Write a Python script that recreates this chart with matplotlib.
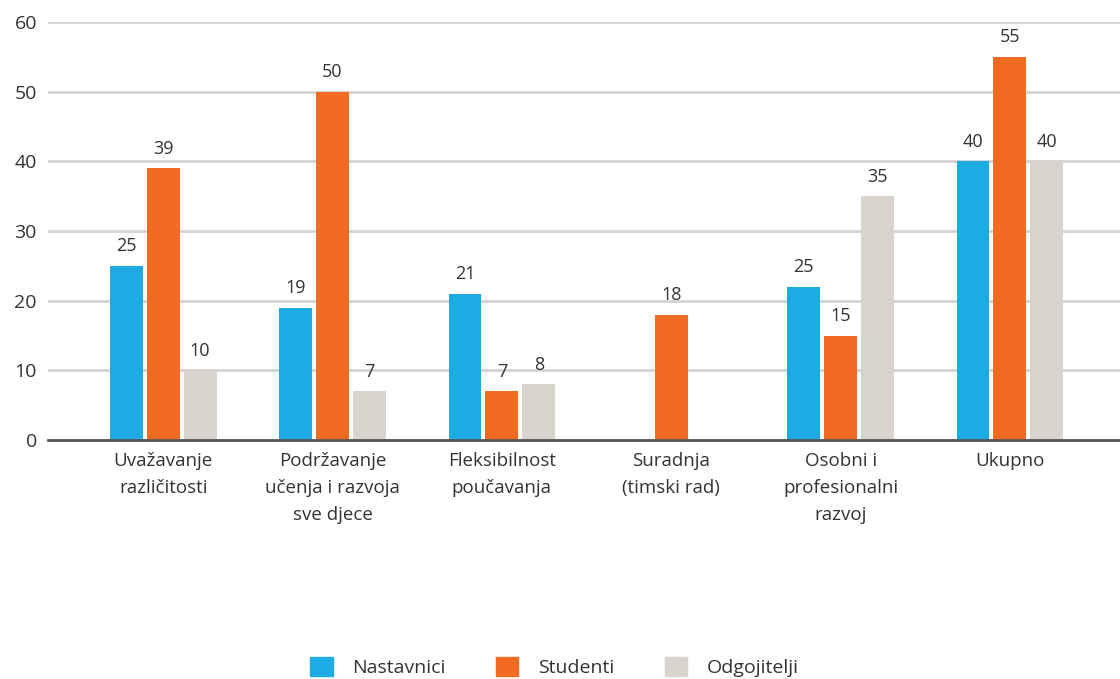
import numpy as np
import matplotlib
matplotlib.use("Agg")
import matplotlib.pyplot as plt
from matplotlib.patches import Patch

# categories and series (bar heights)
categories = ['Uvažavanje\nrazličitosti', 'Podržavanje\nučenja i razvoja\nsve djece',
              'Fleksibilnost\npoučavanja', 'Suradnja\n(timski rad)',
              'Osobni i\nprofesionalni\nrazvoj', 'Ukupno']
series_names = ['Nastavnici', 'Studenti', 'Odgojitelji']
nastavnici = [25, 19, 21, np.nan, 22, 40]
studenti = [39, 50, 7, 18, 15, 55]
odgojitelji = [10, 7, 8, np.nan, 35, 40]
# printed labels (Osobni/Nastavnici is labelled 25 in the original)
nastavnici_lbl = ['25', '19', '21', '', '25', '40']
studenti_lbl = ['39', '50', '7', '18', '15', '55']
odgojitelji_lbl = ['10', '7', '8', '', '35', '40']
yticks = [0, 10, 20, 30, 40, 50, 60]

colors = ['#1EAAE2', '#F26B22', '#D9D3CE']
txt = '#333333'
plt.rcParams['font.family'] = ['Open Sans', 'DejaVu Sans']

fig = plt.figure(figsize=(11.2, 6.79), dpi=100)
ax = fig.add_axes([48/1120, 1 - 440/679, 1 - 48/1120, (440 - 22)/679])

x = np.arange(len(categories))
w = 0.194
off = 0.218
data = [nastavnici, studenti, odgojitelji]
labels = [nastavnici_lbl, studenti_lbl, odgojitelji_lbl]
for i, (vals, lbls) in enumerate(zip(data, labels)):
    xs = x + (i - 1) * off
    ax.bar(xs, vals, width=w, color=colors[i], zorder=3)
    for xi, v, l in zip(xs, vals, lbls):
        if l and not np.isnan(v):
            ax.annotate(l, (xi, v), xytext=(0, 7.5), textcoords='offset points',
                        ha='center', va='bottom', fontsize=13, color=txt)

ax.set_ylim(0, 60)
ax.set_xlim(-0.68, 5.65)
ax.set_yticks(yticks)
ax.set_xticks(x)
ax.set_xticklabels(categories, fontsize=13.5, color=txt, linespacing=1.62)
ax.tick_params(axis='y', length=0, pad=8, labelsize=14, labelcolor=txt)
ax.tick_params(axis='x', length=0, pad=9)
ax.grid(axis='y', color='#D3D3D3', linewidth=2, zorder=0)
for s in ['top', 'right', 'left']:
    ax.spines[s].set_visible(False)
ax.spines['bottom'].set_color('#555555')
ax.spines['bottom'].set_linewidth(2)
ax.spines['bottom'].set_zorder(4)

handles = [Patch(color=c) for c in colors]
fig.legend(handles, series_names, loc='center', bbox_to_anchor=(0.495, 12/679),
           ncol=3, frameon=False, fontsize=14, handlelength=1.15, handleheight=1.15,
           handletextpad=1.0, columnspacing=2.6, labelcolor=txt)

fig.savefig('out.png', dpi=100)
